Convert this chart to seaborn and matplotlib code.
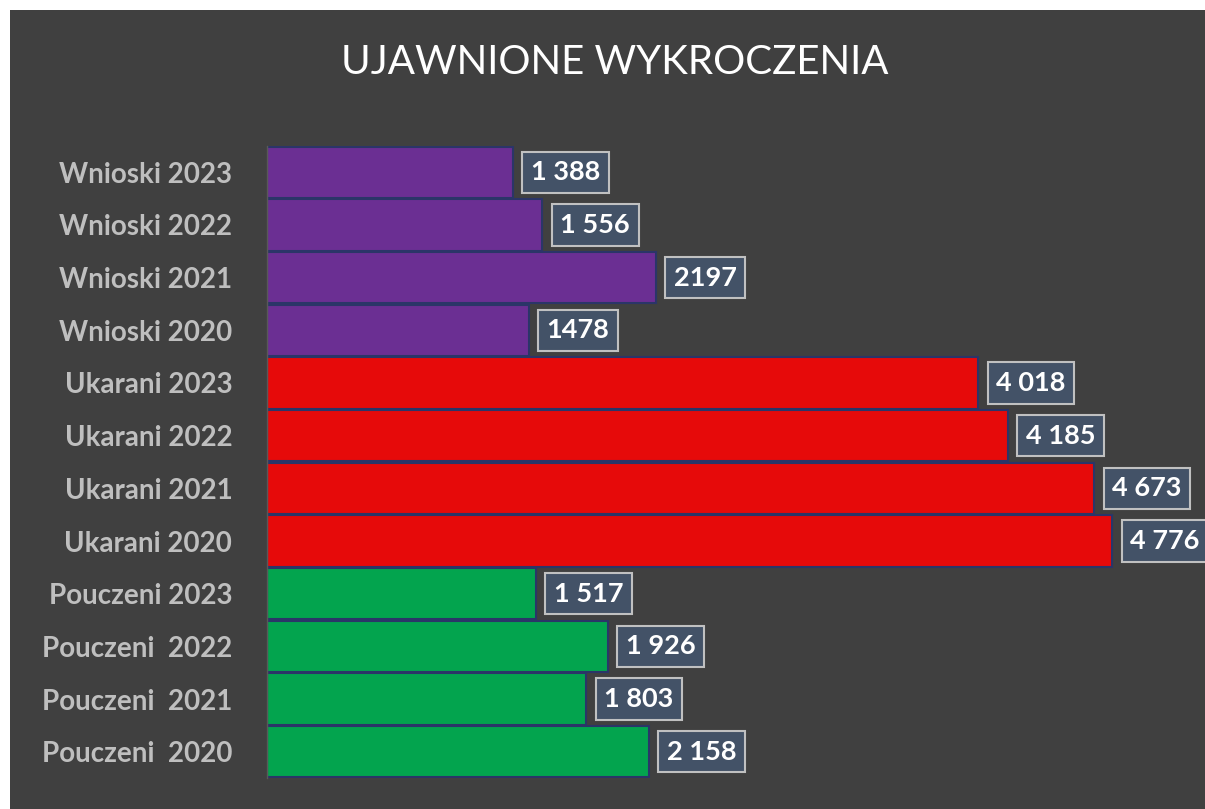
import matplotlib
matplotlib.use("Agg")
import matplotlib.pyplot as plt
import seaborn as sns
import pandas as pd
from matplotlib.patches import Rectangle

categories = ["Wnioski 2023", "Wnioski 2022", "Wnioski 2021", "Wnioski 2020",
              "Ukarani 2023", "Ukarani 2022", "Ukarani 2021", "Ukarani 2020",
              "Pouczeni 2023", "Pouczeni  2022", "Pouczeni  2021", "Pouczeni  2020"]
values = [1388, 1556, 2197, 1478, 4018, 4185, 4673, 4776, 1517, 1926, 1803, 2158]
value_labels = ["1 388", "1 556", "2197", "1478", "4 018", "4 185", "4 673", "4 776",
                "1 517", "1 926", "1 803", "2 158"]
groups = ["Wnioski"] * 4 + ["Ukarani"] * 4 + ["Pouczeni"] * 4
group_colors = {"Wnioski": "#6B2F93", "Ukarani": "#E60A0A", "Pouczeni": "#03A44E"}

df = pd.DataFrame({"kategoria": categories, "wartosc": values, "grupa": groups})

sns.set_style("dark")
plt.rcParams["font.family"] = ["Lato", "DejaVu Sans"]

bg = "#404040"
fig = plt.figure(figsize=(12.05, 8.09), dpi=100, facecolor="white")
fig.patches.append(Rectangle((10 / 1205, 0), 1, 1 - 10 / 809, transform=fig.transFigure,
                             facecolor=bg, edgecolor="none", zorder=-10))
ax = fig.add_axes([267 / 1205, 1 - 778 / 809, 885 / 1205, 632 / 809])
ax.set_facecolor(bg)

palette = [group_colors[g] for g in groups]
sns.barplot(data=df, x="wartosc", y="kategoria", hue="kategoria", palette=palette,
            legend=False, width=0.97, edgecolor="#2B3568", linewidth=1.5,
            saturation=1, ax=ax)

for cont, txt in zip(ax.containers, value_labels):
    ax.bar_label(cont, labels=[txt], padding=13, color="white", fontsize=19.5,
                 fontweight="bold", clip_on=False,
                 bbox=dict(boxstyle="square,pad=0.32", facecolor="#44546A",
                           edgecolor="#C8C8C8", linewidth=1.5, alpha=0.95))

ax.set_xlim(0, 5000)
ax.set_xlabel("")
ax.set_ylabel("")
ax.set_xticks([])
ax.tick_params(axis="y", length=0, pad=25, labelsize=20, labelcolor="#BFBFBF")
for lab in ax.get_yticklabels():
    lab.set_fontweight("bold")
for s in ["top", "right", "bottom"]:
    ax.spines[s].set_visible(False)
ax.spines["left"].set_visible(True)
ax.spines["left"].set_color("#595959")
ax.spines["left"].set_linewidth(1)
ax.grid(False)

fig.text(0.51, 1 - 62 / 809, "UJAWNIONE WYKROCZENIA", ha="center", va="center",
         color="white", fontsize=29)

fig.savefig("out.png", dpi=100, facecolor=fig.get_facecolor())
